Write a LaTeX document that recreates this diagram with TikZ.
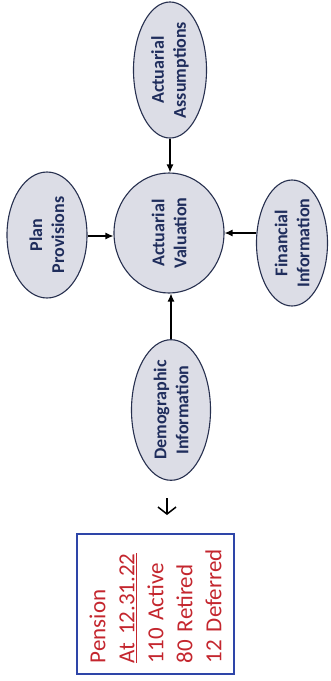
\documentclass[tikz,border=0pt]{standalone}
\usepackage{fontspec}
\setmainfont{Carlito}
\usetikzlibrary{shapes.geometric,arrows.meta}
\definecolor{ellfill}{HTML}{DCDDE6}
\definecolor{ellline}{HTML}{27304F}
\definecolor{elltext}{HTML}{1F2D5C}
\definecolor{boxline}{HTML}{2E45A8}
\definecolor{boxtext}{HTML}{C4262E}
\begin{document}
\begin{tikzpicture}[x=1pt,y=1pt,
  bubble/.style={ellipse,draw=ellline,line width=1.1pt,fill=ellfill,rotate=90,inner sep=0pt,
    align=center,text=elltext,font=\bfseries\fontsize{18}{22}\selectfont},
  feed/.style={line width=1.2pt,-{Latex[length=8pt,width=7pt]}},
  infobox/.style={draw=boxline,line width=1.1pt,rotate=90,minimum width=140pt,minimum height=157pt,
    text width=118pt,inner xsep=11pt,align=left,text=boxtext,font=\fontsize{23}{29}\selectfont}]
\useasboundingbox (0,0) rectangle (331,-681);
% rotated nodes: .west = page bottom, .east = page top, .north = page left, .south = page right
\node[bubble,minimum width=115pt,minimum height=73pt] (assump) at (170,-70) {Actuarial\\Assumptions};
\node[bubble,minimum width=120pt,minimum height=110pt] (val) at (169,-233) {Actuarial\\Valuation};
\node[bubble,minimum width=126pt,minimum height=80pt] (plan) at (47,-235) {Plan\\Provisions};
\node[bubble,minimum width=117pt,minimum height=71pt] (fin) at (292,-243) {Financial\\Information};
\node[bubble,minimum width=126pt,minimum height=79pt] (demo) at (171,-410) {Demographic\\Information};
\draw[feed] (assump.west) -- (assump.west |- val.east);
\draw[feed] ([yshift=-1pt]plan.south) -- ([yshift=-1pt]plan.south -| val.north);
\draw[feed] ([yshift=10pt]fin.north) -- ([yshift=10pt]fin.north -| val.south);
\draw[feed] (demo.east) -- (demo.east |- val.west);
\coordinate (dtop) at (167,-498);
\coordinate (dbot) at (167,-515);
\draw[line width=1.5pt,-{Straight Barb[length=7pt,width=18pt]}] (dtop) -- (dbot);
\node[infobox] (pension) at (155.5,-604) {Pension\\\underline{At~12.31.22}\\110 Active\\80 Retired\\12 Deferred};
\end{tikzpicture}
\end{document}
